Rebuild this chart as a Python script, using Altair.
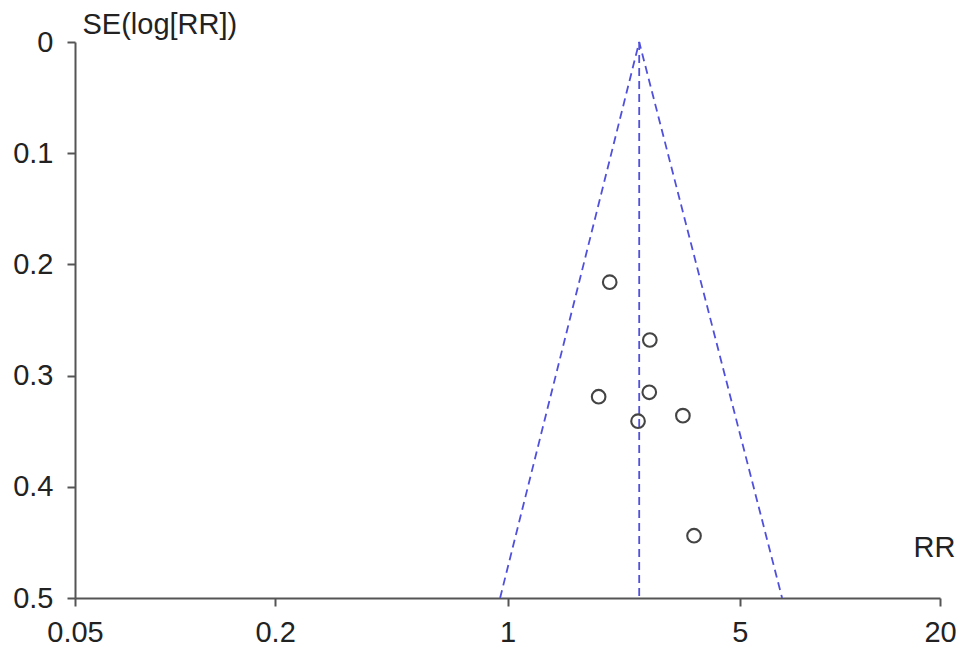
import altair as alt
import pandas as pd

# Study points (RR, SE(log RR))
study_rr = [2.03, 2.68, 1.88, 2.67, 3.37, 2.47, 3.64]
study_se = [0.216, 0.268, 0.319, 0.315, 0.336, 0.341, 0.444]

# Funnel (pooled estimate and 95% limits)
funnel_rr = [0.95, 2.49, 6.7]
funnel_se = [0.5, 0.0, 0.5]
center_rr = [2.49, 2.49]
center_se = [0.0, 0.5]

x_ticks = [0.05, 0.2, 1, 5, 20]
y_ticks = [0, 0.1, 0.2, 0.3, 0.4, 0.5]

pts = pd.DataFrame({"rr": study_rr, "se": study_se})
fun = pd.DataFrame({"rr": funnel_rr, "se": funnel_se, "o": [0, 1, 2]})
cen = pd.DataFrame({"rr": center_rr, "se": center_se, "o": [0, 1]})

FONT = "Liberation Sans"
xs = alt.Scale(type="log", domain=[0.05, 20], nice=False)
ys = alt.Scale(domain=[0, 0.5], reverse=True, nice=False, zero=False)

x_axis = alt.Axis(values=x_ticks, format="~g", title="RR", grid=False,
                  domainColor="#555", domainWidth=2, tickColor="#555", tickWidth=2,
                  tickSize=8, labelPadding=12, labelFont=FONT, labelFontSize=29,
                  labelColor="#222", labelFlush=False,
                  titleFont=FONT, titleFontSize=29, titleFontWeight="normal", titleColor="#222",
                  titleAnchor="end", titleAlign="right", titleBaseline="alphabetic",
                  titleX=880, titleY=-42)
y_axis = alt.Axis(values=y_ticks, format="~g", title="SE(log[RR])", grid=False,
                  domainColor="#555", domainWidth=2, tickColor="#555", tickWidth=2,
                  tickSize=8, labelPadding=14, labelFont=FONT, labelFontSize=29,
                  labelColor="#222", labelFlush=False,
                  titleFont=FONT, titleFontSize=29, titleFontWeight="normal", titleColor="#222",
                  titleAngle=0, titleAlign="left", titleBaseline="alphabetic",
                  titleX=7, titleY=-9)

DASH_COLOR = "#5050dc"
funnel = alt.Chart(fun).mark_line(color=DASH_COLOR, strokeDash=[8, 5], strokeWidth=1.8).encode(
    x=alt.X("rr:Q", scale=xs, axis=x_axis),
    y=alt.Y("se:Q", scale=ys, axis=y_axis),
    order="o:O",
)
center = alt.Chart(cen).mark_line(color=DASH_COLOR, strokeDash=[8, 5], strokeWidth=1.8).encode(
    x=alt.X("rr:Q", scale=xs),
    y=alt.Y("se:Q", scale=ys),
    order="o:O",
)
points = alt.Chart(pts).mark_point(shape="circle", filled=False, color="#444",
                                   size=185, strokeWidth=2.1, opacity=1).encode(
    x=alt.X("rr:Q", scale=xs),
    y=alt.Y("se:Q", scale=ys),
)

chart = (funnel + center + points).properties(
    width=865, height=556,
    background="white",
    autosize=alt.AutoSizeParams(type="none"),
    padding={"left": 67, "top": 34, "right": 21, "bottom": 55},
).configure_view(stroke=None)

chart.save("out.html", embed_options={"renderer": "svg", "actions": False})
